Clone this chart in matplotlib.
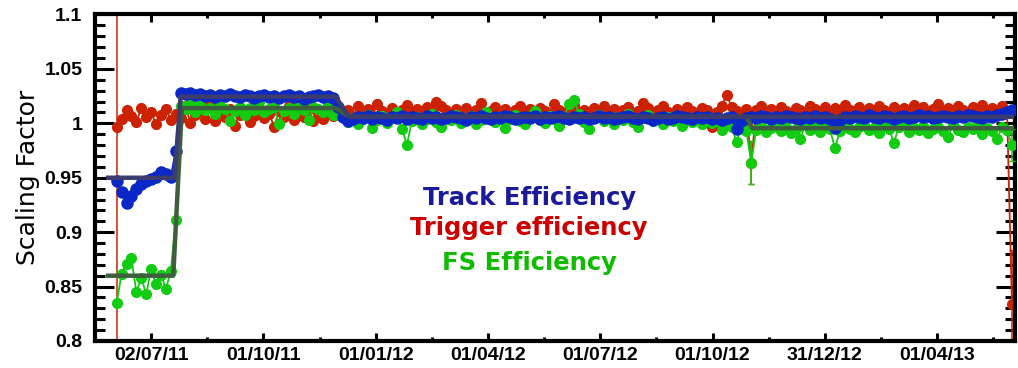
import pandas as pd
import matplotlib
matplotlib.use("Agg")
import matplotlib.pyplot as plt

# one point every 4 days
dates = pd.date_range("2011-06-04", "2013-06-01", freq="4D")

track = [
    0.947, 0.937, 0.927, 0.933, 0.940, 0.944, 0.947, 0.949, 0.951, 0.955,
    0.953, 0.951, 0.975, 1.028, 1.027, 1.028, 1.026, 1.027, 1.025, 1.026,
    1.024, 1.026, 1.025, 1.027, 1.025, 1.024, 1.026, 1.025, 1.023, 1.025,
    1.026, 1.024, 1.025, 1.023, 1.025, 1.026, 1.024, 1.025, 1.022, 1.024,
    1.025, 1.026, 1.024, 1.025, 1.023, 1.015, 1.006, 1.002, 1.004, 1.006,
    1.005, 1.007, 1.004, 1.006, 1.005, 1.003, 1.006, 1.005, 1.007, 1.004,
    1.006, 1.005, 1.004, 1.007, 1.005, 1.006, 1.004, 1.005, 1.007, 1.006,
    1.005, 1.003, 1.006, 1.005, 1.007, 1.005, 1.004, 1.006, 1.005, 1.007,
    1.006, 1.004, 1.005, 1.006, 1.005, 1.007, 1.004, 1.006, 1.005, 1.006,
    1.007, 1.005, 1.004, 1.006, 1.005, 1.006, 1.004, 1.005, 1.007, 1.005,
    1.006, 1.004, 1.005, 1.006, 1.007, 1.005, 1.004, 1.006, 1.005, 1.003,
    1.005, 1.006, 1.004, 1.005, 1.007, 1.006, 1.005, 1.004, 1.006, 1.005,
    1.006, 1.004, 1.005, 1.003, 1.005, 1.006, 0.995, 1.002, 1.005, 1.006,
    1.005, 1.007, 1.006, 1.004, 1.006, 1.005, 1.007, 1.006, 1.005, 1.004,
    1.006, 1.005, 1.007, 1.005, 1.006, 1.004, 0.996, 1.003, 1.006, 1.005,
    1.007, 1.006, 1.005, 1.008, 1.006, 1.005, 1.007, 1.006, 1.004, 1.006,
    1.007, 1.005, 1.006, 1.008, 1.006, 1.007, 1.005, 1.006, 1.007, 1.006,
    1.005, 1.007, 1.006, 1.008, 1.007, 1.006, 1.005, 1.007, 1.006, 1.008,
    1.009, 1.010, 1.012,
]

trigger = [
    0.997, 1.004, 1.012, 1.007, 1.001, 1.014, 1.006, 1.010, 0.999, 1.008,
    1.013, 1.003, 1.009, 1.005, 1.016, 1.000, 1.008, 1.011, 1.004, 1.019,
    1.002, 1.010, 1.006, 1.013, 0.998, 1.008, 1.011, 1.001, 1.007, 1.014,
    1.005, 1.009, 0.997, 1.011, 1.006, 1.016, 1.003, 1.010, 1.006, 1.013,
    1.002, 1.009, 1.004, 1.012, 1.007, 1.014, 1.008, 1.012, 1.006, 1.016,
    1.010, 1.013, 1.007, 1.018, 1.011, 1.009, 1.014, 1.008, 1.012, 1.017,
    1.010, 1.013, 1.008, 1.015, 1.011, 1.020, 1.016, 1.012, 1.007, 1.013,
    1.010, 1.014, 1.008, 1.012, 1.019, 1.009, 1.011, 1.015, 1.010, 1.013,
    1.007, 1.012, 1.016, 1.010, 1.013, 1.008, 1.014, 1.011, 1.009, 1.018,
    1.012, 1.008, 1.013, 1.017, 1.010, 1.012, 1.009, 1.014, 1.011, 1.016,
    1.010, 1.013, 1.008, 1.012, 1.015, 1.009, 1.011, 1.019, 1.014, 1.010,
    1.012, 1.016, 1.010, 1.007, 1.013, 1.009, 1.015, 1.011, 1.008, 1.014,
    1.012, 0.997, 1.010, 1.016, 1.026, 1.015, 1.011, 1.009, 1.013, 0.964,
    1.012, 1.016, 1.010, 1.013, 1.009, 1.015, 1.011, 1.008, 1.014, 1.012,
    1.010, 1.016, 1.013, 1.009, 1.015, 1.011, 1.014, 1.010, 1.017, 1.012,
    1.009, 1.015, 1.011, 1.014, 1.010, 1.016, 1.012, 1.009, 1.015, 1.011,
    1.014, 1.010, 1.017, 1.012, 1.015, 1.009, 1.013, 1.018, 1.011, 1.014,
    1.010, 1.016, 1.012, 1.009, 1.015, 1.013, 1.017, 1.011, 1.014, 1.012,
    1.016, 1.011, 0.834,
]

fs = [
    0.835, 0.862, 0.871, 0.876, 0.845, 0.858, 0.843, 0.866, 0.852, 0.861,
    0.848, 0.864, 0.911, 1.016, 1.013, 1.019, 1.010, 1.017, 1.012, 1.014,
    1.009, 1.016, 1.013, 1.002, 1.011, 1.015, 1.008, 1.014, 1.012, 1.020,
    1.010, 1.013, 1.015, 0.999, 1.011, 1.014, 1.009, 1.016, 1.012, 1.003,
    1.015, 1.013, 1.010, 1.017, 1.008, 1.008, 1.006, 1.001, 1.005, 0.999,
    1.004, 1.008, 0.996, 1.003, 1.007, 1.000, 1.005, 1.010, 0.995, 0.980,
    1.002, 1.006, 0.999, 1.004, 1.009, 1.001, 0.997, 1.005, 1.003, 1.008,
    1.000, 1.004, 1.007, 0.999, 1.003, 1.010, 1.005, 1.001, 1.006, 0.996,
    1.004, 1.008, 1.002, 0.999, 1.005, 1.011, 1.003, 1.000, 1.007, 1.004,
    0.998, 1.006, 1.018, 1.021, 1.009, 1.001, 0.995, 1.005, 1.008, 1.002,
    1.004, 0.999, 1.006, 1.003, 1.009, 1.001, 0.997, 1.005, 1.008, 1.002,
    1.004, 0.999, 1.006, 1.002, 1.007, 0.998, 1.004, 1.001, 1.006, 0.999,
    1.003, 1.000, 1.002, 0.994, 1.001, 0.997, 0.983, 0.999, 0.993, 0.964,
    0.994, 0.998, 0.992, 0.996, 1.000, 0.993, 0.997, 0.991, 0.995, 0.986,
    0.999, 0.994, 0.996, 0.992, 0.998, 0.995, 0.977, 0.993, 0.998, 0.995,
    0.992, 0.997, 1.000, 0.994, 0.996, 0.991, 0.998, 0.995, 0.982, 0.997,
    0.999, 0.992, 0.996, 0.994, 0.998, 0.991, 0.995, 0.997, 0.993, 0.987,
    0.999, 0.994, 0.992, 0.997, 0.995, 0.999, 0.990, 0.996, 0.993, 0.986,
    0.997, 0.994, 0.980,
]

# statistical errors, a few runs with much larger ones
track_err = [0.003] * len(track)
trigger_err = [0.003] * len(trigger)
trigger_err[0] = 0.25
trigger_err[129] = 0.02
trigger_err[-1] = 0.05
fs_err = [0.003] * len(fs)
fs_err[129] = 0.02
fs_err[-1] = 0.015

# step fits
track_fit_x = pd.to_datetime(["2011-05-28", "2011-07-21", "2011-07-26",
                              "2011-11-29", "2011-12-10", "2013-06-01"])
track_fit_y = [0.950, 0.950, 1.0245, 1.0245, 1.006, 1.006]
fs_fit_x = pd.to_datetime(["2011-05-28", "2011-07-20", "2011-07-27", "2011-11-29",
                           "2011-12-10", "2012-10-28", "2012-11-02", "2013-06-01"])
fs_fit_y = [0.860, 0.860, 1.014, 1.014, 1.006, 1.006, 0.9955, 0.9955]

tick_dates = pd.Timestamp("2011-07-02") + pd.to_timedelta([91.3 * k for k in range(8)], unit="D")
tick_labels = ["02/07/11", "01/10/11", "01/01/12", "01/04/12",
               "01/07/12", "01/10/12", "31/12/12", "01/04/13"]
minor_dates = pd.Timestamp("2011-07-02") + pd.to_timedelta([91.3 * k - 45.65 for k in range(9)], unit="D")
y_ticks = [0.8, 0.85, 0.9, 0.95, 1.0, 1.05, 1.1]
y_labels = ["0.8", "0.85", "0.9", "0.95", "1", "1.05", "1.1"]
y_minor = [0.8 + 0.01 * k for k in range(31)]

fig = plt.figure(figsize=(10.18, 3.68), dpi=100)
ax = fig.add_axes([0.0933, 0.0734, 0.9037, 0.8872])

c_red = "#cc2200"
c_green = "#11cc11"
c_blue = "#0a28c8"

ax.errorbar(dates, trigger, yerr=trigger_err, fmt="-o", color=c_red, ms=7, lw=1.3,
            elinewidth=1.1, capsize=2, zorder=2)
ax.errorbar(dates, fs, yerr=fs_err, fmt="-o", color=c_green, ms=7, lw=1.3,
            elinewidth=1.1, capsize=2, zorder=3)
ax.errorbar(dates, track, yerr=track_err, fmt="-o", color=c_blue, ms=8, lw=1.3,
            elinewidth=1.1, capsize=2, zorder=4)

ax.plot(fs_fit_x, fs_fit_y, color="#3e5e3e", lw=3.2, zorder=5)
ax.plot(track_fit_x, track_fit_y, color="#3c3c6e", lw=3.2, zorder=6)

ax.set_xlim(pd.Timestamp("2011-05-24 02:00"), pd.Timestamp("2013-06-03 10:00"))
ax.set_ylim(0.8, 1.1)

ax.set_xticks(tick_dates)
ax.set_xticklabels(tick_labels)
ax.set_xticks(minor_dates, minor=True)
ax.set_yticks(y_ticks)
ax.set_yticklabels(y_labels)
ax.set_yticks(y_minor, minor=True)

for lbl in ax.get_xticklabels() + ax.get_yticklabels():
    lbl.set_fontfamily("Liberation Sans")
    lbl.set_fontweight("bold")
    lbl.set_fontsize(14)

ax.tick_params(axis="x", which="major", direction="in", length=6, width=2.2,
               top=True, pad=4)
ax.tick_params(axis="x", which="minor", direction="in", length=3, width=2.2, top=True)
ax.tick_params(axis="y", which="major", direction="in", length=14, width=2.2,
               right=True, pad=9)
ax.tick_params(axis="y", which="minor", direction="in", length=7, width=2.2, right=True)

for sp in ax.spines.values():
    sp.set_linewidth(3)

ax.set_ylabel("Scaling Factor", fontsize=18, family="DejaVu Sans", labelpad=3)

ax.text(0.472, 0.418, "Track Efficiency", transform=ax.transAxes, ha="center",
        va="baseline", fontsize=17.5, fontweight="bold", color="#1a1a9a", zorder=10)
ax.text(0.472, 0.325, "Trigger efficiency", transform=ax.transAxes, ha="center",
        va="baseline", fontsize=17.5, fontweight="bold", color="#cc0000", zorder=10)
ax.text(0.472, 0.218, "FS Efficiency", transform=ax.transAxes, ha="center",
        va="baseline", fontsize=17.5, fontweight="bold", color="#11bb00", zorder=10)

fig.savefig("out.png", dpi=100)
